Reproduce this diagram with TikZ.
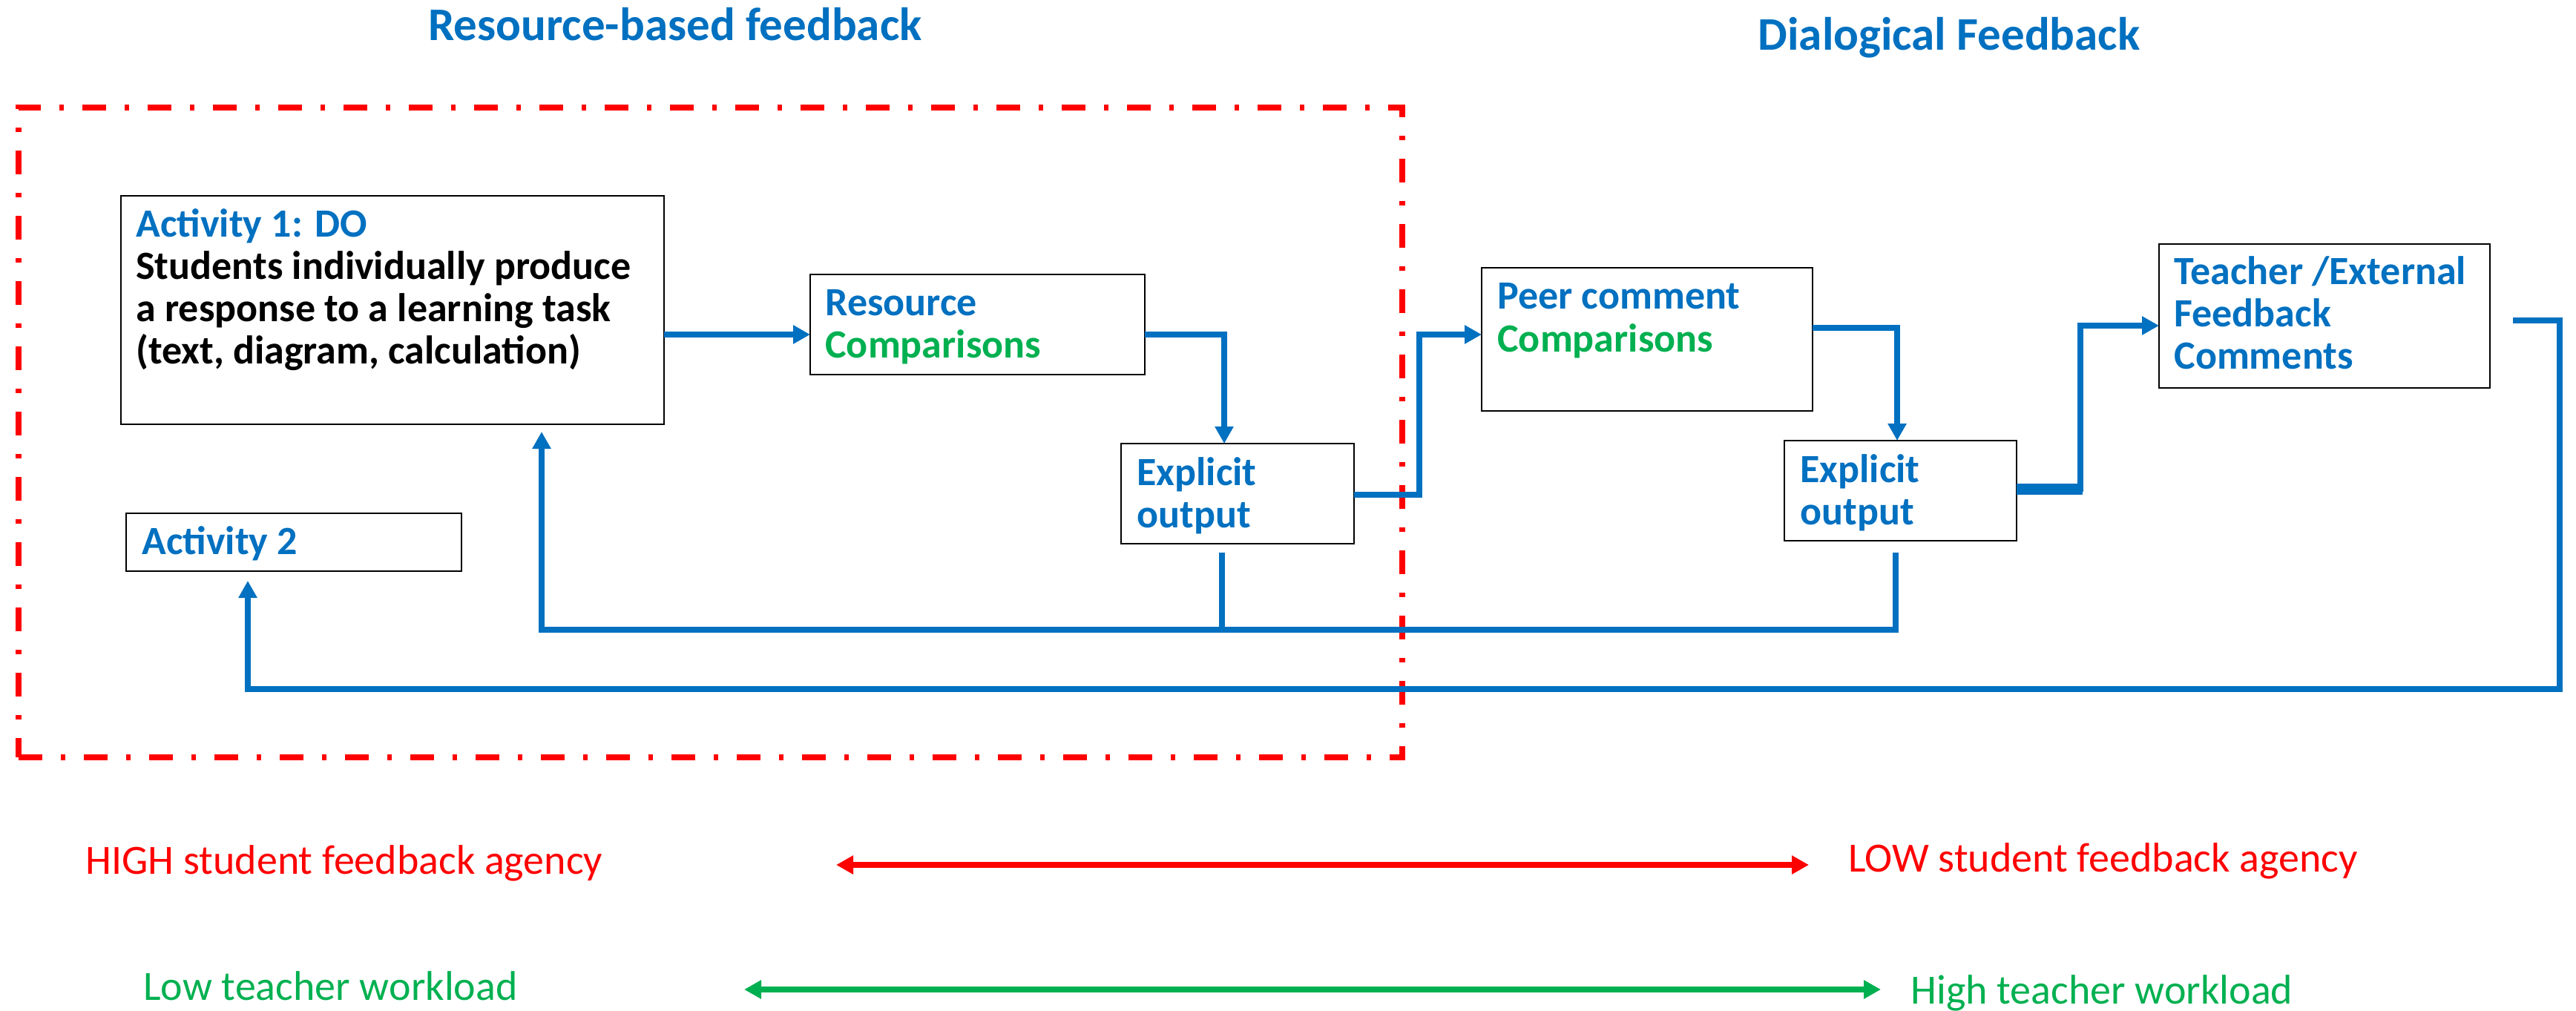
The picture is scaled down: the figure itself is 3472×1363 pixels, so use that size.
\documentclass[tikz,border=0pt]{standalone}
\usepackage{fontspec}
\setmainfont{Carlito}
\usetikzlibrary{arrows.meta}
\definecolor{fbblue}{HTML}{0070C0}
\definecolor{fbgreen}{HTML}{00B050}
\definecolor{fbred}{HTML}{FF0000}
\begin{document}
\begin{tikzpicture}[x=0.5pt,y=-0.5pt,
  box/.style={draw=black, line width=1.4pt, inner sep=0pt, outer sep=0pt},
  flow/.style={draw=fbblue, line width=4pt},
  arr/.style={flow, -{Triangle[length=11.5pt,width=12pt]}},
  btxt/.style={inner sep=0pt, anchor=base west, font=\fontsize{27pt}{28.5pt}\selectfont\bfseries, text=fbblue},
  ttl/.style={inner sep=0pt, anchor=base, font=\fontsize{31.5pt}{36pt}\selectfont\bfseries, text=fbblue},
  lbl/.style={inner sep=0pt, anchor=base west, font=\fontsize{28pt}{32pt}\selectfont},
  redframe/.style={draw=fbred, line width=4pt, dash pattern=on 16pt off 12.5pt on 3pt off 12.5pt, inner sep=0pt},
  scalearr/.style={line width=3.7pt, {Triangle[length=11.5pt,width=12pt]}-{Triangle[length=11.5pt,width=12pt]}}
]
\useasboundingbox (0,0) rectangle (3472,1363);

% titles
\node[ttl] (title1) at (910,55) {Resource-based feedback};
\node[ttl] (title2) at (2627,68) {Dialogical Feedback};

% red frame
\node[redframe, minimum width=932.5pt, minimum height=438pt] (frame) at (957.5,583) {};

% boxes
\node[box, minimum width=366pt, minimum height=154pt] (act1) at (529,418) {};
\node[box, minimum width=226pt, minimum height=39pt] (act2) at (396,731) {};
\node[box, minimum width=225.5pt, minimum height=67.5pt] (res) at (1317.5,437.5) {};
\node[box, minimum width=157pt, minimum height=67.5pt] (exp1) at (1668,665.5) {};
\node[box, minimum width=223pt, minimum height=96.5pt] (peer) at (2220,457.5) {};
\node[box, minimum width=156.5pt, minimum height=67.5pt] (exp2) at (2561.5,661.5) {};
\node[box, minimum width=223pt, minimum height=97pt] (teach) at (3133,426) {};

% box texts
\node[btxt] (act1t) at (183,320) {\parbox[t]{400pt}{\raggedright Activity 1: DO\\\textcolor{black}{Students individually produce}\\\textcolor{black}{a response to a learning task}\\\textcolor{black}{(text, diagram, calculation)}}};
\node[btxt] (act2t) at (191,747) {Activity 2};
\node[btxt] (rest) at (1112,426) {\parbox[t]{200pt}{\raggedright Resource\\\textcolor{fbgreen}{Comparisons}}};
\node[btxt] (exp1t) at (1532,654) {\parbox[t]{150pt}{\raggedright Explicit\\output}};
\node[btxt] (peert) at (2018,417) {\parbox[t]{200pt}{\raggedright Peer comment\\\textcolor{fbgreen}{Comparisons}}};
\node[btxt] (exp2t) at (2426,650) {\parbox[t]{150pt}{\raggedright Explicit\\output}};
\node[btxt] (teacht) at (2930,384) {\parbox[t]{220pt}{\raggedright Teacher /External\\Feedback\\Comments}};

% helper coordinates
\coordinate (r1) at (0,451);
\coordinate (c2) at (1650,451);
\coordinate (c3a) at (1913,667);
\coordinate (c4) at (2557,442);
\coordinate (c5a) at (2804,659);
\coordinate (c5b) at (0,439);
\coordinate (f1) at (1647,745);
\coordinate (f2) at (2555,745);
\coordinate (fy) at (0,849);
\coordinate (fx) at (730,0);
\coordinate (g0) at (3387,432);
\coordinate (gx) at (3450,0);
\coordinate (gy) at (0,929);
\coordinate (gax) at (334,0);

% flow connectors
\draw[arr] (act1.east |- r1) -- (res.west |- r1);
\draw[arr] (res.east |- c2) -| (exp1.north -| c2);
\draw[arr] (exp1.east |- c3a) -- (c3a) |- (peer.west |- r1);
\draw[arr] (peer.east |- c4) -| (exp2.north -| c4);
\draw[arr] (exp2.east |- c5a) -- (c5a) |- (teach.west |- c5b);
\draw[flow, line width=7.5pt] (exp2.east |- c5a) -- ([xshift=1.5pt]c5a);

% feedback loops
\draw[flow] (f1) -- (f1 |- fy);
\draw[arr, shorten >=5pt] (f2) -- (f2 |- fy) -| (act1.south -| fx);
\draw[arr, shorten >=6.5pt] (g0) -- (g0 -| gx) |- (gax |- gy) -- (act2.south -| gax);

% bottom scales
\node[lbl, text=fbred] (high) at (115,1178) {HIGH student feedback agency};
\node[lbl, text=fbred] (low) at (2491,1175) {LOW student feedback agency};
\node[lbl, text=fbgreen] (lowt) at (193,1348) {Low teacher workload};
\node[lbl, text=fbgreen] (hight) at (2575,1353) {High teacher workload};
\coordinate (ra) at (1127,1166);
\coordinate (rb) at (2438,1166);
\coordinate (ga) at (1003,1334);
\coordinate (gb) at (2535,1334);
\draw[scalearr, draw=fbred, fill=fbred] (ra) -- (rb);
\draw[scalearr, draw=fbgreen, fill=fbgreen] (ga) -- (gb);
\end{tikzpicture}
\end{document}
